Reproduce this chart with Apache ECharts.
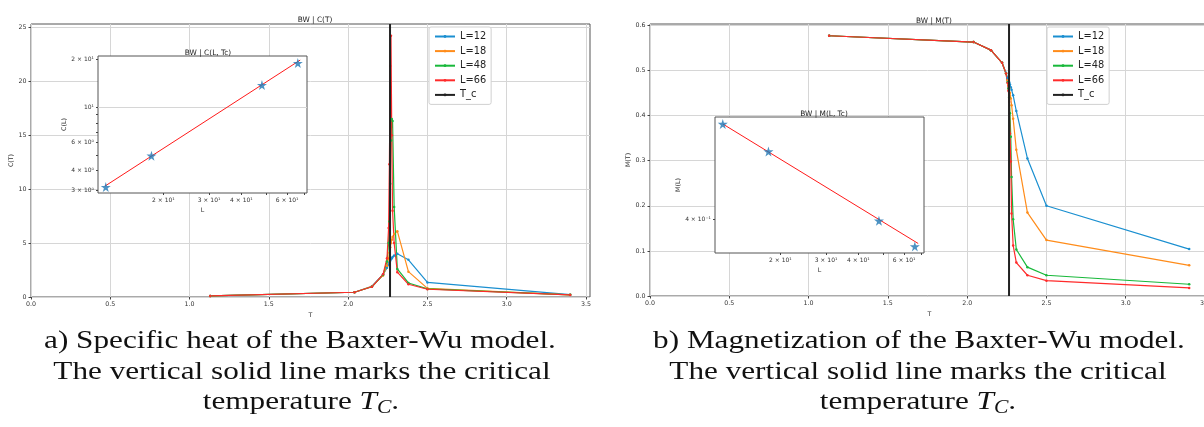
<!DOCTYPE html>
<html>
<head>
<meta charset="utf-8">
<script src="https://cdn.jsdelivr.net/npm/echarts@6/dist/echarts.min.js"></script>
<style>
  html, body { margin: 0; padding: 0; background: #fff; }
  #chart { width: 1204px; height: 427px; }
</style>
</head>
<body>
<div id="chart"></div>
<script>
// temperatures shared by all lattice sizes
const temps = [1.13, 2.04, 2.15, 2.22, 2.245, 2.255, 2.26, 2.265, 2.27, 2.275, 2.28, 2.29, 2.31, 2.38, 2.5, 3.4];
const TC = 2.264;

// specific heat C(T)
const heatL12 = [0.1, 0.44, 1.0, 2.1, 2.7, 3.0, 3.2, 3.35, 3.5, 3.6, 3.7, 3.85, 4.0, 3.45, 1.35, 0.22];
const heatL18 = [0.1, 0.44, 0.98, 2.0, 2.9, 3.6, 4.1, 4.6, 5.0, 5.3, 5.55, 5.85, 6.1, 2.35, 0.8, 0.2];
const heatL48 = [0.1, 0.44, 0.95, 2.05, 3.3, 5.0, 7.0, 10.5, 14.5, 16.5, 16.3, 8.35, 2.6, 1.3, 0.75, 0.2];
const heatL66 = [0.1, 0.44, 0.95, 2.1, 3.6, 6.4, 12.3, 21.4, 24.2, 15.0, 8.0, 5.0, 2.3, 1.18, 0.72, 0.19];

// magnetization M(T)
const magL12 = [0.577, 0.563, 0.545, 0.517, 0.495, 0.484, 0.479, 0.474, 0.469, 0.463, 0.457, 0.445, 0.41, 0.305, 0.2, 0.104];
const magL18 = [0.577, 0.563, 0.545, 0.517, 0.494, 0.478, 0.47, 0.461, 0.45, 0.438, 0.423, 0.393, 0.324, 0.185, 0.124, 0.068];
const magL48 = [0.577, 0.563, 0.545, 0.517, 0.493, 0.474, 0.46, 0.44, 0.405, 0.353, 0.264, 0.17, 0.103, 0.064, 0.046, 0.026];
const magL66 = [0.577, 0.563, 0.545, 0.517, 0.493, 0.472, 0.455, 0.43, 0.36, 0.298, 0.183, 0.112, 0.074, 0.046, 0.034, 0.018];

// values at Tc vs lattice size (insets)
const sizesL = [12, 18, 48, 66];
const heatAtTc = [3.16, 4.97, 13.8, 18.97];
const magAtTc = [0.475, 0.452, 0.399, 0.381];
const heatFitL = [11.9, 67.4];
const heatFit = [3.2, 19.8];
const magFitL = [12, 68];
const magFit = [0.475, 0.383];

// tick labels
const tTicks = [0, 0.5, 1.0, 1.5, 2.0, 2.5, 3.0, 3.5];
const heatTicks = [0, 5, 10, 15, 20, 25];
const magTicks = [0, 0.1, 0.2, 0.3, 0.4, 0.5, 0.6];
const lTicks = [20, 30, 40, 50, 60, 70];
const lLabels = { 20: '2 × 10¹', 30: '3 × 10¹', 40: '4 × 10¹', 60: '6 × 10¹' };
const heatLogTicks = [3, 4, 5, 6, 7, 8, 9, 10, 20];
const heatLogLabels = { 3: '3 × 10⁰', 4: '4 × 10⁰', 6: '6 × 10⁰', 10: '10¹', 20: '2 × 10¹' };
const magLogTicks = [0.4];
const magLogLabels = { 0.4: '4 × 10⁻¹' };

const names = ['L=12', 'L=18', 'L=48', 'L=66'];
const colors = ['#1a8fd0', '#ff8c1a', '#18b83a', '#ff2b2b'];

const FONT = 'DejaVu Sans';
const SERIF = 'Liberation Serif';
const STAR = 'path://M50,0 L61,35 L98,35 L68,57 L79,91 L50,70 L21,91 L32,57 L2,35 L39,35 Z';

function mainX(grid) {
    return {
        gridIndex: grid, type: 'value', min: 0, max: 3.525,
        name: 'T', nameLocation: 'middle', nameGap: 11,
        nameTextStyle: { fontFamily: FONT, fontSize: 6.3, color: '#333' },
        axisLine: { show: false },
        axisTick: { customValues: tTicks, length: 2.5, lineStyle: { color: '#444' } },
        axisLabel: { customValues: tTicks, margin: 4, fontFamily: FONT, fontSize: 6.3, color: '#333',
            formatter: v => v.toFixed(1) },
        splitLine: { show: true, lineStyle: { color: '#d6d6d6', width: 1 } }
    };
}

function mainY(grid, max, ticks, fmt, name) {
    return {
        gridIndex: grid, type: 'value', min: 0, max: max,
        name: name, nameLocation: 'middle', nameGap: 17,
        nameTextStyle: { fontFamily: FONT, fontSize: 6.3, color: '#333' },
        axisLine: { show: false },
        axisTick: { customValues: ticks, length: 2.5, lineStyle: { color: '#444' } },
        axisLabel: { customValues: ticks, margin: 4.5, fontFamily: FONT, fontSize: 6.3, color: '#333', formatter: fmt },
        splitLine: { show: true, lineStyle: { color: '#d6d6d6', width: 1 } }
    };
}

function logAxis(grid, min, max, ticks, labels, name, gap) {
    return {
        gridIndex: grid, type: 'log', logBase: 10, min: min, max: max, z: 6,
        name: name, nameLocation: 'middle', nameGap: gap,
        nameTextStyle: { fontFamily: FONT, fontSize: 6.3, color: '#333' },
        axisLine: { show: false },
        axisTick: { customValues: ticks, length: 2, lineStyle: { color: '#444' } },
        axisLabel: { customValues: Object.keys(labels).map(Number), margin: 4, fontFamily: FONT, fontSize: 6, color: '#333',
            formatter: v => labels[Math.round(v * 1000) / 1000] || '' },
        splitLine: { show: false }
    };
}

function curves(values, xi, yi) {
    return values.map((vals, i) => ({
        name: names[i], type: 'line', xAxisIndex: xi, yAxisIndex: yi,
        data: temps.map((t, k) => [t, vals[k]]),
        symbol: 'circle', symbolSize: 2.5, color: colors[i],
        lineStyle: { width: 1.2 }, z: 2
    }));
}

function tcLine(xi, yi, top) {
    return {
        name: 'T_c', type: 'line', xAxisIndex: xi, yAxisIndex: yi,
        data: [[TC, 0], [TC, top]], symbol: 'none', color: '#222',
        lineStyle: { width: 2 }, z: 3
    };
}

function insetSeries(xi, yi, fitX, fitY, pts, gridAt) {
    const fit = {
        type: 'line', xAxisIndex: xi, yAxisIndex: yi, z: 7,
        data: fitX.map((l, k) => [l, fitY[k]]),
        symbol: 'none', color: '#ff1a1a', lineStyle: { width: 1 }
    };
    if (gridAt) {
        fit.markLine = { silent: true, symbol: 'none', label: { show: false },
            lineStyle: { color: '#d6d6d6', type: 'solid', width: 1 }, data: [{ yAxis: gridAt }] };
    }
    const stars = {
        type: 'scatter', xAxisIndex: xi, yAxisIndex: yi, z: 8,
        data: sizesL.map((l, k) => [l, pts[k]]),
        symbol: STAR, symbolSize: 10, color: '#1f77b4'
    };
    return [fit, stars];
}

const legendBase = {
    orient: 'vertical', padding: [4, 5], itemWidth: 20, itemHeight: 3.5, itemGap: 3.6,
    borderColor: '#d0d0d0', borderWidth: 1, borderRadius: 2, backgroundColor: '#fff',
    textStyle: { fontFamily: FONT, fontSize: 9.8, color: '#222', lineHeight: 11 },
    data: names.concat(['T_c'])
};

const titleStyle = { fontFamily: FONT, fontSize: 7.4, fontWeight: 'normal', color: '#222' };

const capStyle = (text, x, y) => ({
    type: 'text', x: x, y: y, scaleX: 1.2,
    style: { text: text, fontFamily: SERIF, fontSize: 26, fill: '#111', align: 'center', verticalAlign: 'middle',
        rich: {
            it: { fontFamily: SERIF, fontSize: 26, fontStyle: 'italic' },
            sub: { fontFamily: SERIF, fontSize: 18, fontStyle: 'italic', padding: [12, 0, 0, 0] }
        } }
});

const gridBase = { show: true, borderColor: '#555', borderWidth: 1, backgroundColor: '#fff', outerBoundsMode: 'none', containLabel: false };

const option = {
    animation: false,
    backgroundColor: '#fff',
    title: [
        { text: 'BW | C(T)', left: 310, top: 12, textAlign: 'center', textStyle: titleStyle },
        { text: 'BW | C(L, Tc)', left: 203, top: 45, textAlign: 'center', textStyle: titleStyle },
        { text: 'BW | M(T)', left: 929, top: 13, textAlign: 'center', textStyle: titleStyle },
        { text: 'BW | M(L, Tc)', left: 819, top: 106, textAlign: 'center', textStyle: titleStyle }
    ],
    legend: [
        Object.assign({ left: 429, top: 27 }, legendBase),
        Object.assign({ left: 1047, top: 27 }, legendBase)
    ],
    grid: [
        Object.assign({ left: 31, top: 24, width: 559, height: 273 }, gridBase),
        Object.assign({ left: 98, top: 56, width: 209, height: 137, z: 5 }, gridBase),
        Object.assign({ left: 650, top: 24, width: 559, height: 272 }, gridBase),
        Object.assign({ left: 715, top: 117, width: 209, height: 136, z: 5 }, gridBase)
    ],
    xAxis: [
        mainX(0),
        logAxis(1, 11.2, 71.6, lTicks, lLabels, 'L', 14),
        mainX(2),
        logAxis(3, 11.2, 71.6, lTicks, lLabels, 'L', 14)
    ],
    yAxis: [
        mainY(0, 25.3, heatTicks, v => String(v), 'C(T)'),
        logAxis(1, 2.9, 21.0, heatLogTicks, heatLogLabels, 'C(L)', 30),
        mainY(2, 0.603, magTicks, v => v.toFixed(1), 'M(T)'),
        logAxis(3, 0.3765, 0.481, magLogTicks, magLogLabels, 'M(L)', 33)
    ],
    series: [].concat(
        curves([heatL12, heatL18, heatL48, heatL66], 0, 0),
        [tcLine(0, 0, 25.3)],
        insetSeries(1, 1, heatFitL, heatFit, heatAtTc, 10),
        curves([magL12, magL18, magL48, magL66], 2, 2),
        [tcLine(2, 2, 0.603)],
        insetSeries(3, 3, magFitL, magFit, magAtTc, null)
    ),
    graphic: [
        capStyle('a) Specific heat of the Baxter-Wu model.', 300, 341),
        capStyle('The vertical solid line marks the critical', 302, 372),
        capStyle('temperature {it|T}{sub|C}.', 301, 402),
        capStyle('b) Magnetization of the Baxter-Wu model.', 919, 341),
        capStyle('The vertical solid line marks the critical', 918, 372),
        capStyle('temperature {it|T}{sub|C}.', 918, 402)
    ]
};

const chart = echarts.init(document.getElementById('chart'), null, { renderer: 'canvas' });
chart.setOption(option);
</script>
</body>
</html>
